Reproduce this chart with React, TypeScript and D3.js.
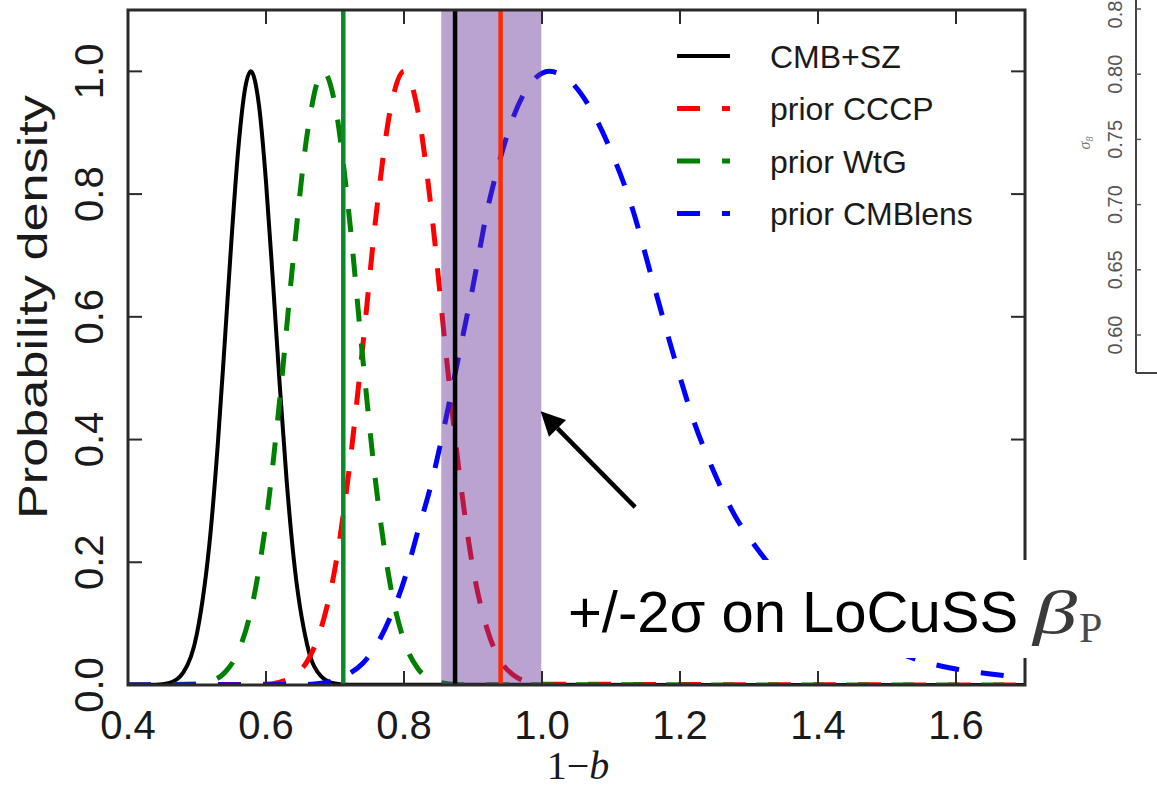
import React from "react";
import * as d3 from "d3";

// ---------- data ----------
const xTicks = [0.4, 0.6, 0.8, 1.0, 1.2, 1.4, 1.6];
const xTickLabels = ["0.4", "0.6", "0.8", "1.0", "1.2", "1.4", "1.6"];
const yTicks = [0.0, 0.2, 0.4, 0.6, 0.8, 1.0];
const yTickLabels = ["0.0", "0.2", "0.4", "0.6", "0.8", "1.0"];

const seriesNames = ["CMB+SZ", "prior CCCP", "prior WtG", "prior CMBlens"];

const cmbX = [0.40, 0.44, 0.46, 0.48, 0.50, 0.52, 0.53, 0.54, 0.55, 0.56, 0.57, 0.578, 0.59, 0.60, 0.61, 0.62, 0.63, 0.64, 0.66, 0.68, 0.70, 0.72, 1.70];
const cmbY = [0, 0.0004, 0.0034, 0.020, 0.084, 0.253, 0.39, 0.555, 0.726, 0.876, 0.974, 1.0, 0.943, 0.82, 0.658, 0.487, 0.332, 0.208, 0.064, 0.014, 0.0023, 0.0003, 0];

const cccpX = [0.40, 0.60, 0.62, 0.64, 0.66, 0.68, 0.70, 0.72, 0.74, 0.76, 0.78, 0.80, 0.82, 0.84, 0.86, 0.88, 0.90, 0.92, 0.94, 0.96, 0.98, 1.00, 1.70];
const cccpY = [0, 0.0014, 0.0047, 0.015, 0.039, 0.093, 0.19, 0.347, 0.55, 0.77, 0.936, 1.0, 0.936, 0.77, 0.55, 0.347, 0.19, 0.093, 0.039, 0.015, 0.0047, 0.0014, 0];

const wtgX = [0.40, 0.50, 0.52, 0.54, 0.56, 0.58, 0.60, 0.62, 0.64, 0.66, 0.683, 0.70, 0.72, 0.74, 0.76, 0.78, 0.80, 0.82, 0.84, 0.86, 0.88, 1.70];
const wtgY = [0, 0.0016, 0.006, 0.020, 0.055, 0.130, 0.266, 0.466, 0.70, 0.90, 1.0, 0.946, 0.77, 0.535, 0.32, 0.164, 0.072, 0.027, 0.009, 0.0024, 0.0005, 0];

const lensX = [0.40, 0.66, 0.68, 0.70, 0.72, 0.74, 0.76, 0.78, 0.80, 0.82, 0.84, 0.86, 0.88, 0.90, 0.92, 0.94, 0.96, 0.98, 1.00, 1.01, 1.04, 1.07, 1.10, 1.13, 1.16, 1.19, 1.22, 1.25, 1.28, 1.31, 1.35, 1.40, 1.45, 1.50, 1.55, 1.60, 1.65, 1.70];
const lensY = [0, 0.001, 0.003, 0.008, 0.018, 0.035, 0.065, 0.11, 0.17, 0.25, 0.33, 0.43, 0.54, 0.65, 0.77, 0.86, 0.93, 0.975, 0.997, 1.0, 0.985, 0.94, 0.87, 0.78, 0.66, 0.54, 0.43, 0.345, 0.275, 0.225, 0.17, 0.12, 0.085, 0.06, 0.039, 0.026, 0.018, 0.012];

// vertical markers (1-b values)
const markerValues = [0.712, 0.874, 0.94];
const markerColors = ["#0a8a2a", "#000000", "#ff2a00"];
// LoCuSS +/-2 sigma band
const bandRange = [0.854, 0.999];
// arrow: tail -> tip (data coords)
const arrowTail = [1.135, 0.29];
const arrowTip = [0.998, 0.446];

// partial second panel (sigma_8 axis)
const s8Ticks = [0.60, 0.65, 0.70, 0.75, 0.80, 0.85];
const s8Labels = ["0.60", "0.65", "0.70", "0.75", "0.80", "0.85"];

const SANS = "'Liberation Sans', Arial, Helvetica, sans-serif";
const SERIF = "'Liberation Serif', 'DejaVu Serif', serif";

export default function App() {
  const L = 128, R = 1025, T = 10, B = 685;
  const x = d3.scaleLinear().domain([0.4, 1.7]).range([L, R]);
  const y = d3.scaleLinear().domain([0, 1.1]).range([B, T]);

  const mk = (xs: number[], ys: number[]) =>
    d3.line<number>().x((_, i) => x(xs[i])).y((d) => y(d)).curve(d3.curveMonotoneX)(ys) || "";

  const DASH = "23 22";
  const series = [
    { name: seriesNames[0], d: mk(cmbX, cmbY), color: "#000000", dash: "none", w: 4 },
    { name: seriesNames[1], d: mk(cccpX, cccpY), color: "#ff0000", dash: DASH, w: 5 },
    { name: seriesNames[2], d: mk(wtgX, wtgY), color: "#008000", dash: DASH, w: 5 },
    { name: seriesNames[3], d: mk(lensX, lensY), color: "#0000ff", dash: DASH, w: 5 },
  ];

  const tickLen = 14;
  const tx0 = x(arrowTail[0]), ty0 = y(arrowTail[1]);
  const tx1 = x(arrowTip[0]), ty1 = y(arrowTip[1]);
  const ang = Math.atan2(ty1 - ty0, tx1 - tx0);
  const headL = 24, headW = 12;
  const bx = tx1 - headL * Math.cos(ang), by = ty1 - headL * Math.sin(ang);
  const head = [
    [tx1, ty1],
    [bx + headW * Math.sin(ang), by - headW * Math.cos(ang)],
    [bx - headW * Math.sin(ang), by + headW * Math.cos(ang)],
  ];

  const y2 = d3.scaleLinear().domain([0.6, 0.85]).range([335, 9]);
  const ax2 = 1136, bottom2 = 373;

  return (
    <svg width={1157} height={790} style={{ position: "absolute", left: 0, top: 0, background: "#fff" }}>
      <defs>
        <clipPath id="plot">
          <rect x={L} y={T} width={R - L} height={B - T} />
        </clipPath>
      </defs>
      <rect x={0} y={0} width={1157} height={790} fill="#fff" />

      {/* curves */}
      <g clipPath="url(#plot)">
        {series.map((s) => (
          <path key={s.name} d={s.d} fill="none" stroke={s.color} strokeWidth={s.w}
            strokeDasharray={s.dash === "none" ? undefined : s.dash} />
        ))}
        {/* band */}
        <rect x={x(bandRange[0])} y={T} width={x(bandRange[1]) - x(bandRange[0])} height={B - T}
          fill="#663399" fillOpacity={0.45} />
        {markerValues.map((v, i) => (
          <line key={i} x1={x(v)} x2={x(v)} y1={T} y2={B} stroke={markerColors[i]} strokeWidth={4.5} />
        ))}
      </g>

      {/* frame */}
      <rect x={L} y={T} width={R - L} height={B - T} fill="none" stroke="#2a2a2a" strokeWidth={3} />
      {xTicks.map((v, i) => (
        <g key={"xt" + i}>
          <line x1={x(v)} x2={x(v)} y1={B} y2={B - tickLen} stroke="#2a2a2a" strokeWidth={2} />
          <line x1={x(v)} x2={x(v)} y1={T} y2={T + tickLen} stroke="#2a2a2a" strokeWidth={2} />
          <text x={x(v)} y={739} fontFamily={SANS} fontSize={40} textAnchor="middle" fill="#1a1a1a">
            {xTickLabels[i]}
          </text>
        </g>
      ))}
      {yTicks.map((v, i) => (
        <g key={"yt" + i}>
          <line x1={L} x2={L + tickLen} y1={y(v)} y2={y(v)} stroke="#2a2a2a" strokeWidth={2} />
          <line x1={R} x2={R - tickLen} y1={y(v)} y2={y(v)} stroke="#2a2a2a" strokeWidth={2} />
          <text transform={`translate(103,${y(v)}) rotate(-90)`} fontFamily={SANS} fontSize={40}
            textAnchor="middle" fill="#1a1a1a">
            {yTickLabels[i]}
          </text>
        </g>
      ))}
      <text transform={`translate(47,307) rotate(-90)`} fontFamily={SANS} fontSize={41}
        textAnchor="middle" fill="#1a1a1a" textLength={424} lengthAdjust="spacingAndGlyphs">Probability density</text>
      <text x={578} y={779} fontFamily={SERIF} fontSize={40} textAnchor="middle" fill="#1a1a1a">
        1−<tspan fontStyle="italic">b</tspan>
      </text>

      {/* legend */}
      {series.map((s, i) => {
        const ly = 56 + i * 52.5;
        return (
          <g key={"lg" + i}>
            <line x1={677} x2={730} y1={ly} y2={ly} stroke={s.color} strokeWidth={s.w}
              strokeDasharray={s.dash === "none" ? undefined : s.dash} />
            <text x={770} y={ly + 11.5} fontFamily={SANS} fontSize={32} fill="#1a1a1a">{s.name}</text>
          </g>
        );
      })}

      {/* arrow */}
      <line x1={tx0} y1={ty0} x2={bx} y2={by} stroke="#000" strokeWidth={4.5} />
      <polygon points={head.map((p) => p.join(",")).join(" ")} fill="#000" />

      {/* annotation box */}
      <rect x={553} y={560} width={1157 - 553} height={98} fill="#fff" />
      <text x={568} y={632} fontFamily={SANS} fontSize={58} fill="#000">+/-2σ on LoCuSS</text>
      <text x={1033} y={633} fontFamily={SERIF} fontSize={62} fontStyle="italic" fill="#3a3a3a"
        textLength={44} lengthAdjust="spacingAndGlyphs">β</text>
      <text x={1079} y={642} fontFamily={SERIF} fontSize={42} fill="#4a4a4a">P</text>

      {/* partial second panel */}
      <line x1={ax2} x2={ax2} y1={0} y2={bottom2} stroke="#444" strokeWidth={2} />
      <line x1={ax2} x2={1157} y1={bottom2} y2={bottom2} stroke="#444" strokeWidth={2} />
      {s8Ticks.map((v, i) => (
        <g key={"s8" + i}>
          <line x1={ax2} x2={ax2 + 5} y1={y2(v)} y2={y2(v)} stroke="#555" strokeWidth={1.5} />
          <text transform={`translate(1122,${y2(v)}) rotate(-90)`} fontFamily={SANS} fontSize={20}
            textAnchor="middle" fill="#555">{s8Labels[i]}</text>
        </g>
      ))}
      <text transform={`translate(1090,143) rotate(-90)`} fontFamily={SERIF} fontSize={16}
        fontStyle="italic" textAnchor="middle" fill="#777">σ<tspan fontSize={10} dy={3}>8</tspan></text>
    </svg>
  );
}
